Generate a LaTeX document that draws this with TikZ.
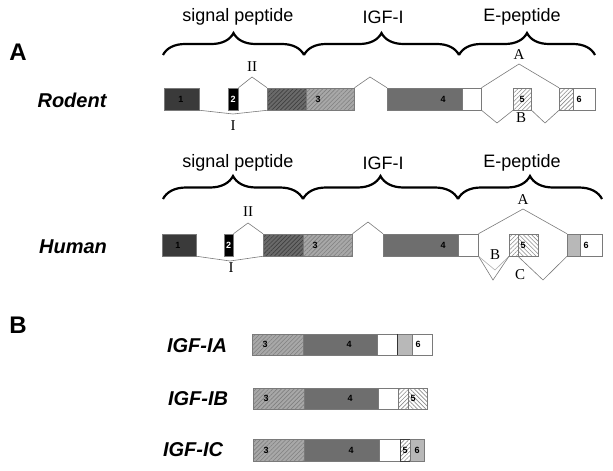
\documentclass[tikz,border=0pt]{standalone}
\usepackage{fontspec}
\setmainfont{Liberation Sans}
\newfontfamily\serf{Liberation Serif}
\usetikzlibrary{patterns.meta,decorations.pathreplacing}

\definecolor{exone}{HTML}{3A3A3A}
\definecolor{exthreed}{HTML}{6A6A6A}
\definecolor{exthreel}{HTML}{A8A8A8}
\definecolor{exfour}{HTML}{6E6E6E}
\definecolor{exsix}{HTML}{B8B8B8}
\definecolor{intr}{HTML}{7A7A7A}

\tikzset{
  exon/.style={draw=intr, line width=0.5pt, inner sep=0pt, minimum height=22pt, anchor=west},
  hatchne/.style 2 args={preaction={fill=#1}, pattern={Lines[angle=45,distance=3pt,line width=0.6pt]}, pattern color=#2},
  hatchnw/.style 2 args={preaction={fill=#1}, pattern={Lines[angle=-45,distance=3pt,line width=0.6pt]}, pattern color=#2},
  num/.style={font=\bfseries\fontsize{9}{9}\selectfont, inner sep=0pt},
  intron/.style={draw=intr, line width=0.6pt},
  roman/.style={font=\serf\fontsize{15}{15}\selectfont, inner sep=0pt},
  region/.style={font=\fontsize{18}{18}\selectfont, inner sep=0pt},
  species/.style={font=\bfseries\itshape\fontsize{20}{20}\selectfont, inner sep=0pt},
  panel/.style={font=\bfseries\fontsize{24}{24}\selectfont, inner sep=0pt},
  curly/.style={decorate, decoration={brace, amplitude=#1}, line width=2.2pt}
}

\begin{document}
\begin{tikzpicture}[x=1pt, y=-1pt]
\useasboundingbox (0,0) rectangle (613,471);

\node[panel] (pA) at (18,52) {A};
\node[panel] (pB) at (18,325) {B};

%% rodent
\node[species] (rodent) at (72,100) {Rodent};

\node[region] (rsig) at (238,17) {signal peptide};
\node[region] (rigf) at (383,17) {IGF-I};
\node[region] (rep) at (522,17) {E-peptide};
\draw[curly=22pt] (163,55) -- (304,55);
\draw[curly=22pt] (304,55) -- (459,55);
\draw[curly=22pt] (459,55) -- (595,55);

\node[exon, fill=exone, minimum width=35pt] (r1) at (164,99) {};
\node[exon, fill=black, minimum width=10pt] (r2) at (228,99) {};
\node[exon, hatchne={exthreed}{black!75}, minimum width=39pt] (r3a) at (267,99) {};
\node[exon, hatchne={exthreel}{black!50}, minimum width=48pt] (r3b) at (306,99) {};
\node[exon, fill=exfour, minimum width=75pt] (r4) at (387,99) {};
\node[exon, fill=white, minimum width=19pt] (rw) at (462,99) {};
\node[exon, hatchne={white}{black!45}, minimum width=18pt] (r5) at (513,99) {};
\node[exon, hatchne={white}{black!45}, minimum width=14pt] (r6a) at (559,99) {};
\node[exon, fill=white, minimum width=22pt] (r6b) at (573,99) {};

\node[num] (rn1) at (181,99) {1};
\node[num, text=white] (rn2) at (233,99) {2};
\node[num] (rn3) at (318,99) {3};
\node[num] (rn4) at (443,99) {4};
\node[num] (rn5) at (522,99) {5};
\node[num] (rn6) at (579,99) {6};

\coordinate (rvI) at (233,114);
\coordinate (rvII) at (252,77);
\coordinate (rvin) at (370,77);
\coordinate (rvA) at (519,64);
\coordinate (rvB1) at (497,123);
\coordinate (rvB2) at (545,123);
\draw[intron] (r1.south east) -- (rvI) -- (r3a.south west);
\draw[intron] (r2.north east) -- (rvII) -- (r3a.north west);
\draw[intron] (r3b.north east) -- (rvin) -- (r4.north west);
\draw[intron] (rw.north east) -- (rvA) -- (r6a.north west);
\draw[intron] (rw.south east) -- (rvB1) -- (r5.south west);
\draw[intron] (r5.south east) -- (rvB2) -- (r6a.south west);
\node[roman] (rI) at (233,126) {I};
\node[roman] (rII) at (252,67) {II};
\node[roman] (rA) at (519,55) {A};
\node[roman] (rB) at (521,118) {B};

%% human
\node[species] (human) at (73,247) {Human};

\node[region] (hsig) at (238,163) {signal peptide};
\node[region] (higf) at (383,163) {IGF-I};
\node[region] (hep) at (522,163) {E-peptide};
\draw[curly=23pt] (163,199) -- (303,199);
\draw[curly=23pt] (303,199) -- (458,199);
\draw[curly=23pt] (458,199) -- (602,199);

\node[exon, fill=exone, minimum width=34pt] (h1) at (162,245) {};
\node[exon, fill=black, minimum width=9pt] (h2) at (224,245) {};
\node[exon, hatchne={exthreed}{black!75}, minimum width=40pt] (h3a) at (263,245) {};
\node[exon, hatchne={exthreel}{black!50}, minimum width=49pt] (h3b) at (303,245) {};
\node[exon, fill=exfour, minimum width=75pt] (h4) at (383,245) {};
\node[exon, fill=white, minimum width=20pt] (hw) at (458,245) {};
\node[exon, hatchne={white}{black!45}, minimum width=9pt] (h5a) at (509,245) {};
\node[exon, hatchnw={white}{black!45}, minimum width=20pt] (h5b) at (518,245) {};
\node[exon, fill=exsix, minimum width=13pt] (h6a) at (567,245) {};
\node[exon, fill=white, minimum width=22pt] (h6b) at (580,245) {};

\node[num] (hn1) at (178,245) {1};
\node[num, text=white] (hn2) at (228.5,245) {2};
\node[num] (hn3) at (315,245) {3};
\node[num] (hn4) at (443,245) {4};
\node[num] (hn5) at (523,245) {5};
\node[num] (hn6) at (586,245) {6};

\coordinate (hvI) at (230,261);
\coordinate (hvII) at (248,223);
\coordinate (hvin) at (368,222);
\coordinate (hvA) at (523,209);
\coordinate (hvB) at (495,270);
\coordinate (hvC1) at (493,280);
\coordinate (hvC2) at (543,280);
\draw[intron] (h1.south east) -- (hvI) -- (h3a.south west);
\draw[intron] (h2.north east) -- (hvII) -- (h3a.north west);
\draw[intron] (h3b.north east) -- (hvin) -- (h4.north west);
\draw[intron] (hw.north east) -- (hvA) -- (h6a.north west);
\draw[intron, draw=intr!60] (hw.south east) -- (hvB) -- (h5a.south west);
\draw[intron] (hw.south east) -- (hvC1) -- (h5a.south west);
\draw[intron] (h5b.south west) -- (hvC2) -- (h6a.south west);
\node[roman] (hI) at (231,268) {I};
\node[roman] (hII) at (248,212) {II};
\node[roman] (hA) at (523,200) {A};
\node[roman] (hB) at (495,255) {B};
\node[roman] (hC) at (520,275) {C};

%% mature forms
\node[species] (igfa) at (197,346) {IGF-IA};
\node[exon, hatchne={exthreel}{black!50}, minimum width=51pt, minimum height=21pt] (a3) at (252,344.5) {};
\node[exon, fill=exfour, minimum width=74pt, minimum height=21pt] (a4) at (303,344.5) {};
\node[exon, fill=white, minimum width=20pt, minimum height=21pt] (aw) at (377,344.5) {};
\node[exon, fill=exsix, minimum width=15pt, minimum height=21pt] (a6a) at (397,344.5) {};
\node[exon, fill=white, minimum width=20pt, minimum height=21pt] (a6b) at (412,344.5) {};
\draw[black!80, line width=0.7pt] (a6a.north west) -- (a6a.south west);
\node[num] (an3) at (265,344.5) {3};
\node[num] (an4) at (349,344.5) {4};
\node[num] (an6) at (418,344.5) {6};

\node[species] (igfb) at (198,399) {IGF-IB};
\node[exon, hatchne={exthreel}{black!50}, minimum width=51pt, minimum height=21pt] (b3) at (253,398.5) {};
\node[exon, fill=exfour, minimum width=74pt, minimum height=21pt] (b4) at (304,398.5) {};
\node[exon, fill=white, minimum width=20pt, minimum height=21pt] (bw) at (378,398.5) {};
\node[exon, hatchne={white}{black!45}, minimum width=10pt, minimum height=21pt] (b5a) at (398,398.5) {};
\node[exon, hatchnw={white}{black!45}, minimum width=19pt, minimum height=21pt] (b5b) at (408,398.5) {};
\node[num] (bn3) at (266,398.5) {3};
\node[num] (bn4) at (350,398.5) {4};
\node[num] (bn5) at (413,398.5) {5};

\node[species] (igfc) at (193,450) {IGF-IC};
\node[exon, hatchne={exthreel}{black!50}, minimum width=51pt] (c3) at (253,450) {};
\node[exon, fill=exfour, minimum width=75pt] (c4) at (304,450) {};
\node[exon, fill=white, minimum width=21pt] (cw) at (379,450) {};
\node[exon, hatchne={white}{black!45}, draw=black!75, minimum width=10pt] (c5) at (400,450) {};
\node[exon, fill=exsix, minimum width=14pt] (c6) at (410,450) {};
\node[num] (cn3) at (266,450) {3};
\node[num] (cn4) at (351,450) {4};
\node[num] (cn5) at (405,450) {5};
\node[num] (cn6) at (417,450) {6};

\end{tikzpicture}
\end{document}
